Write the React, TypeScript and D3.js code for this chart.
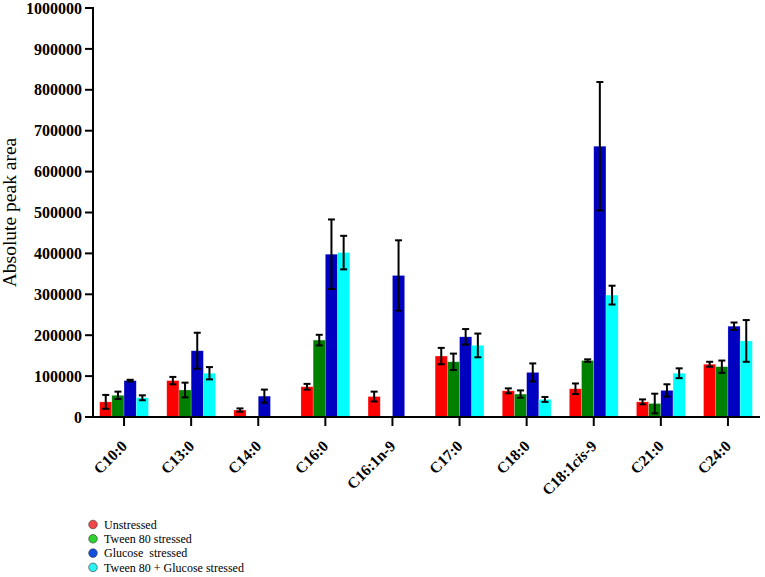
import React from "react";
import * as d3 from "d3";

const categories = ["C10:0", "C13:0", "C14:0", "C16:0", "C16:1n-9", "C17:0", "C18:0", "C18:1cis-9", "C21:0", "C24:0"];
const seriesNames = ["Unstressed", "Tween 80 stressed", "Glucose  stressed", "Tween 80 + Glucose stressed"];
const barColors = ["#ff0000", "#008000", "#0000c0", "#00ffff"];
const legendColors = ["#f04848", "#2ed12e", "#1450e0", "#2ff2f2"];

// values (null = not detected)
const unstressed = [37000, 89000, 17000, 74000, 50000, 149000, 64000, 69000, 37000, 129000];
const unstressedErr = [17000, 9000, 4000, 7000, 12000, 20000, 6000, 13000, 6000, 6000];
const tween = [53000, 66000, null, 188000, null, 135000, 56000, 138000, 33000, 123000];
const tweenErr = [9000, 18000, null, 13000, null, 20000, 9000, 3000, 24000, 15000];
const glucose = [89000, 162000, 51000, 398000, 346000, 196000, 109000, 662000, 65000, 222000];
const glucoseErr = [2000, 44000, 16000, 85000, 86000, 19000, 22000, 157000, 15000, 9000];
const both = [47000, 107000, null, 402000, null, 175000, 43000, 298000, 107000, 186000];
const bothErr = [6000, 15000, null, 41000, null, 29000, 6000, 23000, 12000, 51000];

const yTicks = [0, 100000, 200000, 300000, 400000, 500000, 600000, 700000, 800000, 900000, 1000000];

const values = [unstressed, tween, glucose, both];
const errors = [unstressedErr, tweenErr, glucoseErr, bothErr];

export default function App() {
  const W = 765, H = 577;
  const x0 = 93, x1 = 760, yTop = 8, yBase = 417;
  const y = d3.scaleLinear().domain([0, 1000000]).range([yBase, yTop]);
  const xb = d3.scaleBand<string>().domain(categories).range([90.5, 761.5]).padding(0);
  const xs = d3.scaleBand<number>().domain([0, 1, 2, 3]).range([-24.4, 24.4]).padding(0);
  const serif = "'Liberation Serif', 'Times New Roman', serif";

  return (
    <>
      <style>{"body{margin:0}"}</style>
      <svg width={W} height={H} style={{ display: "block", fontFamily: serif }}>
        <rect width={W} height={H} fill="#fff" />
        {/* bars */}
        {categories.map((c, i) => (
          <g key={c} transform={`translate(${xb(c)! + xb.bandwidth() / 2},0)`}>
            {values.map((vals, s) => {
              const v = vals[i];
              if (v == null) return null;
              const bx = xs(s)!;
              const bw = xs.bandwidth();
              return (
                <rect key={s} x={bx} y={y(v)} width={bw} height={yBase - y(v)} fill={barColors[s]}
                  stroke="#ffffff" strokeOpacity={0.35} strokeWidth={0.6} />
              );
            })}
            {values.map((vals, s) => {
              const v = vals[i];
              const e = errors[s][i];
              if (v == null || e == null) return null;
              const cx = xs(s)! + xs.bandwidth() / 2;
              const yt = y(v + e), yb = y(Math.max(0, v - e));
              return (
                <g key={"e" + s} stroke="#000" strokeWidth={2}>
                  <line x1={cx} x2={cx} y1={yt} y2={yb} />
                  <line x1={cx - 3.5} x2={cx + 3.5} y1={yt} y2={yt} />
                  <line x1={cx - 3.5} x2={cx + 3.5} y1={yb} y2={yb} />
                </g>
              );
            })}
          </g>
        ))}
        {/* y axis */}
        <line x1={x0} x2={x0} y1={yTop - 1} y2={yBase + 1} stroke="#000" strokeWidth={2} />
        {yTicks.map((t) => (
          <g key={t}>
            <line x1={x0 - 8} x2={x0} y1={y(t)} y2={y(t)} stroke="#000" strokeWidth={2} />
            <text x={x0 - 11} y={y(t)} dy="0.35em" textAnchor="end" fontSize={16} fontWeight="bold">
              {t}
            </text>
          </g>
        ))}
        <text transform={`translate(16,${(yTop + yBase) / 2}) rotate(-90)`} textAnchor="middle" fontSize={19.5}>
          Absolute peak area
        </text>
        {/* x axis */}
        <line x1={x0 - 1} x2={x1} y1={yBase} y2={yBase} stroke="#000" strokeWidth={2} />
        {categories.map((c) => {
          const cx = xb(c)! + xb.bandwidth() / 2;
          const isCis = c.includes("cis");
          return (
            <g key={"t" + c}>
              <line x1={cx} x2={cx} y1={yBase} y2={yBase + 9} stroke="#000" strokeWidth={2} />
              <text transform={`translate(${cx + 4},${yBase + 30}) rotate(-45)`} textAnchor="end" fontSize={15.5} fontWeight="bold">
                {isCis ? (
                  <>
                    <tspan>C18:1</tspan>
                    <tspan fontStyle="italic">cis</tspan>
                    <tspan>-9</tspan>
                  </>
                ) : c}
              </text>
            </g>
          );
        })}
        {/* legend */}
        {seriesNames.map((n, i) => (
          <g key={n} transform={`translate(93,${524.5 + i * 14.3})`}>
            <circle r={4.3} fill={legendColors[i]} stroke="#333" strokeWidth={0.6} />
            <text x={11} y={0} dy="0.35em" fontSize={12} xmlSpace="preserve" style={{ whiteSpace: "pre" }}>
              {n}
            </text>
          </g>
        ))}
      </svg>
    </>
  );
}
